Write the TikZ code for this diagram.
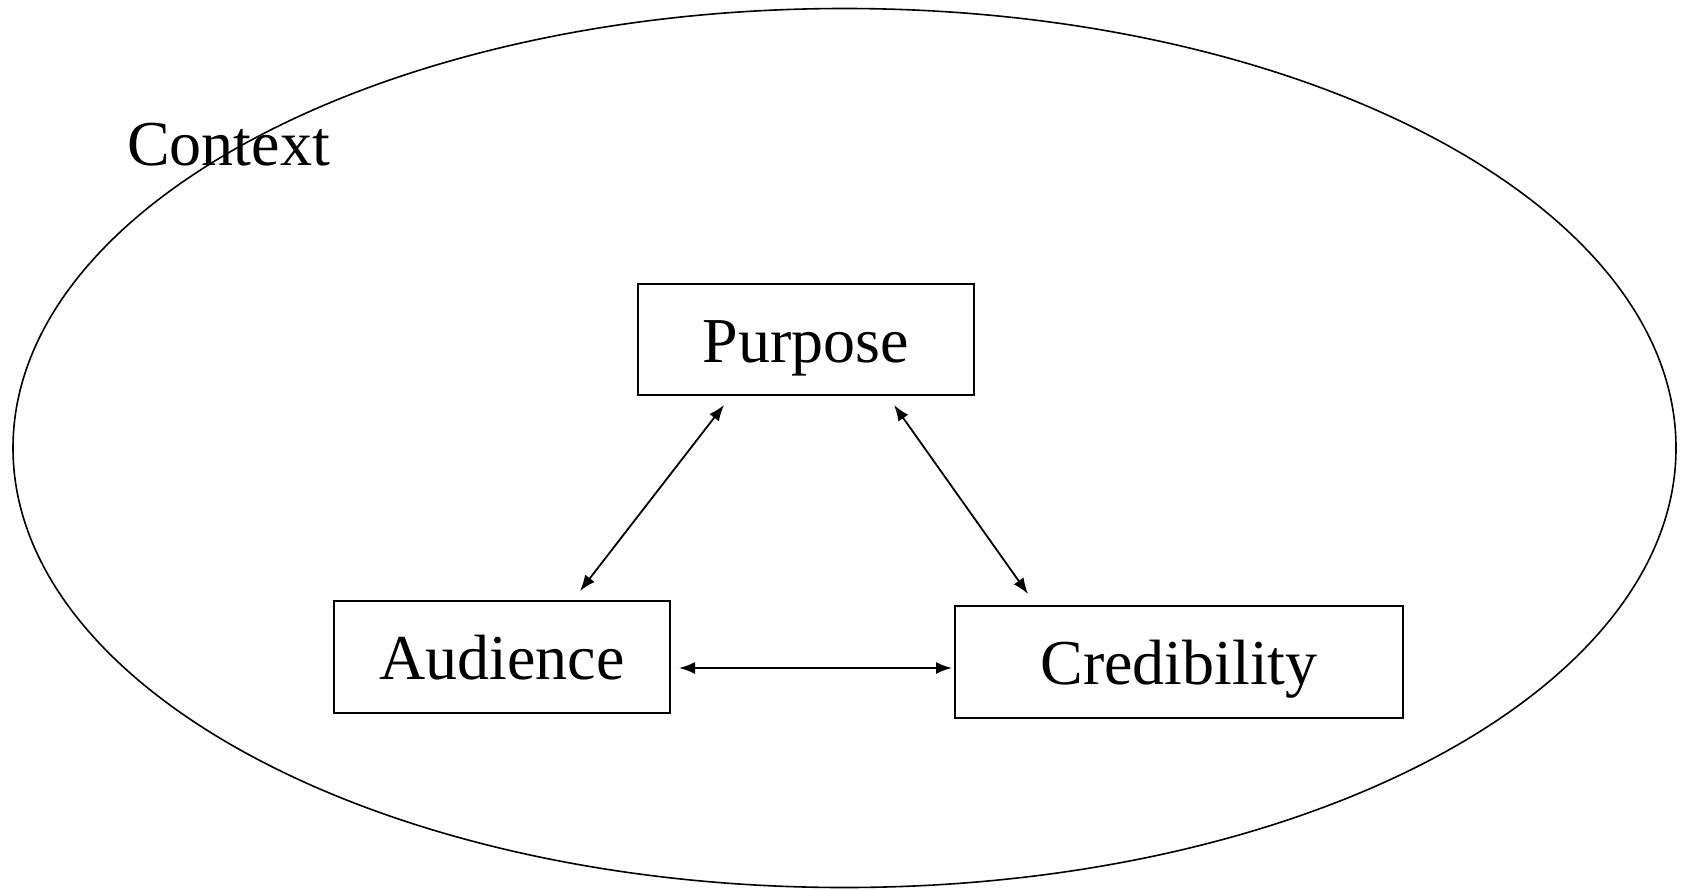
\documentclass[tikz,border=0pt]{standalone}
\usepackage{fontspec}
\setmainfont{Liberation Serif}
\usetikzlibrary{arrows.meta}
\begin{document}
\begin{tikzpicture}[x=1pt,y=-1pt,
  box/.style={draw=black, line width=2pt, inner sep=0pt,
    text height=45pt, text depth=0pt, font=\fontsize{64}{72}\selectfont},
  link/.style={line width=1.8pt, {Latex[length=16pt,width=12pt]}-{Latex[length=16pt,width=12pt]}}]
  \useasboundingbox (0,0) rectangle (1685,889);
  % outer context ellipse
  \draw[line width=1.6pt] (844.5,448) ellipse [x radius=831.5, y radius=439.5];
  \node[anchor=base west, inner sep=0pt, font=\fontsize{64}{72}\selectfont] (ctx) at (127,165) {Context};
  % the three boxes
  \node[box, minimum width=336pt, minimum height=111pt] (P) at (806,339.5) {Purpose};
  \node[box, minimum width=336pt, minimum height=112pt] (A) at (502,657) {Audience};
  \node[box, minimum width=448pt, minimum height=112pt] (C) at (1179,662) {Credibility};
  % two-way links
  \draw[link] ([xshift=-82pt,yshift=-9pt]P.south) -- ([xshift=78pt,yshift=9pt]A.north);
  \draw[link] ([xshift=88pt,yshift=-9pt]P.south) -- ([xshift=-151pt,yshift=11pt]C.north);
  \draw[link] ([xshift=8pt,yshift=-11pt]A.east) -- ([xshift=-2pt,yshift=-6pt]C.west);
\end{tikzpicture}
\end{document}
